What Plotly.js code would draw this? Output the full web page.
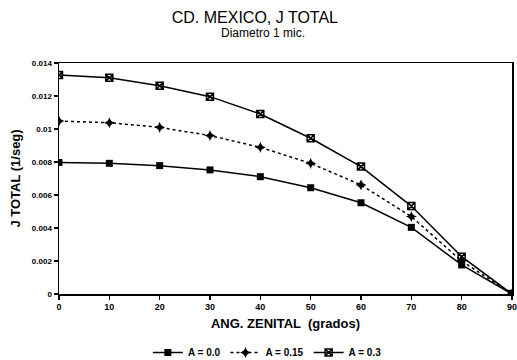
<!DOCTYPE html>
<html><head><meta charset="utf-8">
<script src="https://cdn.plot.ly/plotly-3.0.1.min.js"></script>
<style>body{margin:0;background:#fff}#c{width:517px;height:360px}</style>
</head><body><div id="c"></div>
<script>
var angles = [0, 10, 20, 30, 40, 50, 60, 70, 80, 90];
var jA00  = [0.00797, 0.00792, 0.00778, 0.00752, 0.00711, 0.00644, 0.00553, 0.00404, 0.00176, 0.0];
var jA015 = [0.01048, 0.01038, 0.01010, 0.00960, 0.00889, 0.00792, 0.00661, 0.00469, 0.00200, 0.0];
var jA03  = [0.01327, 0.01311, 0.01262, 0.01196, 0.01091, 0.00944, 0.00772, 0.00533, 0.00226, 0.0];
var names = ['A = 0.0', 'A = 0.15', 'A = 0.3'];

var F = 'Liberation Sans, Arial, sans-serif';
var traces = [
  {x: angles, y: jA00, name: names[0], mode: 'lines+markers',
   line: {color: '#000', width: 1.5}, marker: {symbol: 'square', size: 7, color: '#000'}},
  {x: angles, y: jA015, name: names[1], mode: 'lines+markers',
   line: {color: '#000', width: 1.5, dash: 'dot'}, marker: {symbol: 'star-diamond', size: 8, color: '#000'}},
  {x: angles, y: jA03, name: names[2], mode: 'lines+markers',
   line: {color: '#000', width: 1.5}, marker: {symbol: 'square-x-open', size: 7, color: '#000', line: {width: 1.5, color: '#000'}}}
];
var layout = {
  width: 517, height: 360,
  margin: {l: 59, r: 5, t: 63, b: 66},
  paper_bgcolor: '#fff', plot_bgcolor: '#fff',
  showlegend: true,
  title: {text: 'CD. MEXICO, J TOTAL', font: {family: F, size: 16, color: '#000'},
          x: 0.493, xanchor: 'center', y: 1 - 17/360, yanchor: 'middle', yref: 'container'},
  annotations: [{text: 'Diametro 1 mic.', xref: 'paper', yref: 'paper', x: 0.45, y: 1 + (63-33)/231,
                 showarrow: false, font: {family: F, size: 12, color: '#000'}, xanchor: 'center', yanchor: 'middle'}],
  legend: {orientation: 'h', x: 0.46, xanchor: 'center', yref: 'container', y: (360-338)/360, yanchor: 'top',
           font: {family: F, size: 10, color: '#000', weight: 'bold'}, itemwidth: 30, tracegroupgap: 0,
           borderwidth: 0},
  xaxis: {range: [0, 90], dtick: 10, tick0: 0, showgrid: false, zeroline: false, automargin: false,
          showline: true, linecolor: '#000', linewidth: 1.5, mirror: true,
          ticks: 'outside', ticklen: 4, tickcolor: '#000', tickwidth: 1.5, ticklabeloverflow: 'allow',
          tickfont: {family: F, size: 9, color: '#000', weight: 'bold'},
          title: {text: 'ANG. ZENITAL  (grados)', font: {family: F, size: 13, color: '#000', weight: 'bold'}, standoff: 7}},
  yaxis: {range: [0, 0.014], dtick: 0.002, tick0: 0, showgrid: false, zeroline: false, automargin: false,
          showline: true, linecolor: '#000', linewidth: 1.5, mirror: true,
          ticks: 'outside', ticklen: 4, tickcolor: '#000', tickwidth: 1.5,
          tickfont: {family: F, size: 8, color: '#000', weight: 'bold'},
          title: {text: 'J TOTAL (1/seg)', font: {family: F, size: 13, color: '#000', weight: 'bold'}, standoff: 8}}
};
Plotly.newPlot('c', traces, layout, {displayModeBar: false, staticPlot: true});
</script></body></html>
